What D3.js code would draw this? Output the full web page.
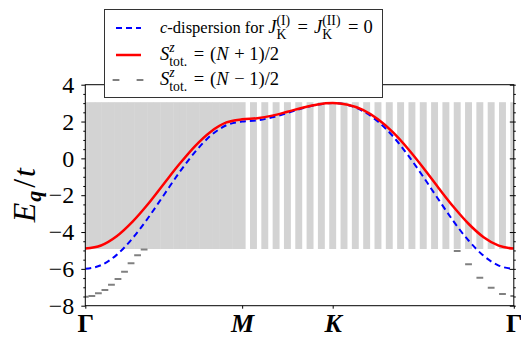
<!DOCTYPE html>
<html lang="en">
<head>
    <meta charset="UTF-8">
    <title>Dispersion chart</title>
    <script src="https://d3js.org/d3.v7.min.js"></script>
    <style>
        body { margin: 0; background: #fff; }
        text { white-space: pre; fill: #000; }
    </style>
</head>
<body>
    <svg id="chart"></svg>
    <script>
        const width = 521;
        const height = 337;
        const serif = "'Liberation Serif'";

        // path positions of the high symmetry points (|ΓM| : |MK| : |KΓ| = 1/√3 : 1/3 : 2/3)
        const kTicks = [0, 0.5774, 0.9107, 1.5774];
        const kLabels = ["Γ", "M", "K", "Γ"];
        // number of k grid steps on each leg of the path
        const gridSteps = [24, 8, 16];

        // c-dispersion for J_K = 0, read along each leg
        const cDispGM = [-6.0, -5.80, -5.24, -4.35, -3.24, -2.0, -0.76, 0.35, 1.24, 1.80, 2.0];
        const cDispMK = [2.0, 2.06, 2.23, 2.46, 2.72, 2.92, 3.0];
        const cDispKG = [3.0, 2.90, 2.57, 2.0, 1.19, 0.16, -1.0, -2.22, -3.41, -4.46, -5.29, -5.82, -6.0];

        // S = (N+1)/2 branch
        const upGM = [-4.90, -4.73, -4.23, -3.45, -2.48, -1.39, -0.31, 0.67, 1.45, 1.95, 2.12];
        const upMK = [2.12, 2.18, 2.32, 2.53, 2.75, 2.93, 3.0];
        const upKG = [3.0, 2.91, 2.63, 2.12, 1.41, 0.51, -0.51, -1.59, -2.63, -3.55, -4.28, -4.74, -4.90];

        // S = (N-1)/2 states below the continuum (grid index on the leg, energy)
        const downLeftIdx = [0, 1, 2, 3, 4, 5, 6, 7, 8, 9];
        const downLeft = [-7.51, -7.47, -7.32, -7.15, -6.86, -6.55, -6.15, -5.70, -5.26, -4.95];
        const downRightIdx = [11, 12, 13, 14, 15, 16];
        const downRight = [-5.03, -5.75, -6.48, -7.02, -7.36, -7.47];

        // continuum edges
        const contMin = -4.92;
        const contMax = 3.05;

        const yMajor = [-8, -6, -4, -2, 0, 2, 4];

        const margin = {left: 85.3, right: 7.2, top: 84.7, bottom: 31.3};
        const x = d3.scaleLinear().domain([0, kTicks[3]]).range([margin.left, width - margin.right]);
        const y = d3.scaleLinear().domain([-8, 4]).range([height - margin.bottom, margin.top]);

        const svg = d3.select("#chart")
            .attr("width", width)
            .attr("height", height)
            .attr("viewBox", [0, 0, width, height]);

        svg.append("defs").append("clipPath").attr("id", "plot")
            .append("rect")
            .attr("x", x(0)).attr("y", y(4))
            .attr("width", x(kTicks[3]) - x(0)).attr("height", y(-8) - y(4));

        // k positions of evenly spaced samples on each leg
        function legK(leg, n) {
            return d3.range(n).map(i => kTicks[leg] + (kTicks[leg + 1] - kTicks[leg]) * i / (n - 1));
        }
        function joinLegs(a, b, c) {
            const pts = [];
            [a, b, c].forEach((vals, leg) => {
                const ks = legK(leg, vals.length);
                vals.forEach((v, i) => {
                    if (leg > 0 && i === 0) return;
                    pts.push([ks[i], v]);
                });
            });
            return pts;
        }

        // k grid
        const grid = [];
        gridSteps.forEach((n, leg) => {
            legK(leg, n + 1).forEach((k, i) => {
                if (leg > 0 && i === 0) return;
                grid.push(k);
            });
        });

        const plot = svg.append("g").attr("clip-path", "url(#plot)");

        const barW = 0.0255;
        plot.append("g")
            .attr("fill", "#d3d3d3")
            .selectAll("rect")
            .data(grid)
            .join("rect")
            .attr("x", d => x(d - barW / 2))
            .attr("width", x(barW) - x(0))
            .attr("y", y(contMax))
            .attr("height", y(contMin) - y(contMax));

        // lower spin branch, short horizontal markers
        const downPts = downLeftIdx.map((i, j) => [legK(0, gridSteps[0] + 1)[i], downLeft[j]])
            .concat(downRightIdx.map((i, j) => [legK(2, gridSteps[2] + 1)[i], downRight[j]]));
        plot.append("g")
            .attr("stroke", "#808080")
            .attr("stroke-width", 2)
            .selectAll("line")
            .data(downPts)
            .join("line")
            .attr("x1", d => x(d[0]) - 3.4)
            .attr("x2", d => x(d[0]) + 3.4)
            .attr("y1", d => y(d[1]))
            .attr("y2", d => y(d[1]));

        const line = d3.line()
            .x(d => x(d[0]))
            .y(d => y(d[1]))
            .curve(d3.curveMonotoneX);

        plot.append("path")
            .attr("d", line(joinLegs(cDispGM, cDispMK, cDispKG)))
            .attr("fill", "none")
            .attr("stroke", "#0000ff")
            .attr("stroke-width", 2)
            .attr("stroke-dasharray", "6,4");

        plot.append("path")
            .attr("d", line(joinLegs(upGM, upMK, upKG)))
            .attr("fill", "none")
            .attr("stroke", "#ff0000")
            .attr("stroke-width", 2.5);

        // axes
        const minor = d3.range(-8, 4.01, 0.5).filter(v => !yMajor.includes(v));

        const left = svg.append("g").attr("transform", `translate(${x(0)},0)`);
        left.call(d3.axisLeft(y).tickValues(yMajor).tickSize(4).tickPadding(7));
        left.append("g").call(d3.axisLeft(y).tickValues(minor).tickSize(2).tickFormat(""));
        left.selectAll(".domain").remove();
        left.selectAll("text").attr("font-size", 24);
        left.selectAll("line").attr("stroke", "#000");

        const right = svg.append("g").attr("transform", `translate(${x(kTicks[3])},0)`);
        right.call(d3.axisRight(y).tickValues(yMajor).tickSize(2).tickFormat(""));
        right.append("g").call(d3.axisLeft(y).tickValues(yMajor).tickSize(4).tickFormat(""));
        right.append("g").call(d3.axisRight(y).tickValues(minor).tickSize(2).tickFormat(""));
        right.selectAll(".domain").remove();

        const bottom = svg.append("g").attr("transform", `translate(0,${y(-8)})`);
        bottom.call(d3.axisBottom(x).tickValues(kTicks).tickSize(3).tickPadding(4)
            .tickFormat((d, i) => kLabels[i]));
        bottom.selectAll(".domain").remove();
        bottom.selectAll("text")
            .attr("font-size", 26)
            .attr("font-weight", "bold")
            .attr("font-style", (d, i) => (i === 1 || i === 2) ? "italic" : "normal")
            .attr("dy", "0.76em");

        svg.append("rect")
            .attr("x", x(0)).attr("y", y(4))
            .attr("width", x(kTicks[3]) - x(0)).attr("height", y(-8) - y(4))
            .attr("fill", "none")
            .attr("stroke", "#000")
            .attr("stroke-width", 1);

        // math-like text from pieces; stacked pieces hold a sup and a sub, gap pieces add space
        function mathText(parent, px, py, parts, fs) {
            const g = parent.append("g").attr("transform", `translate(${px},${py})`);
            let cx = 0;
            parts.forEach(p => {
                if (p.gap !== undefined) {
                    cx += p.gap;
                } else if (p.t !== undefined) {
                    const t = g.append("text")
                        .attr("x", cx).attr("y", p.dy || 0)
                        .attr("font-size", p.fs || fs)
                        .attr("font-style", p.it ? "italic" : "normal")
                        .attr("font-weight", p.b ? "bold" : "normal")
                        .text(p.t);
                    cx += t.node().getComputedTextLength();
                } else {
                    const s = fs * 0.74;
                    let w = 0;
                    if (p.sup) {
                        const t = g.append("text").attr("x", cx).attr("y", -fs * 0.42)
                            .attr("font-size", s).attr("font-style", p.supIt ? "italic" : "normal").text(p.sup);
                        w = Math.max(w, t.node().getComputedTextLength());
                    }
                    if (p.sub) {
                        const t = g.append("text").attr("x", cx).attr("y", fs * 0.3)
                            .attr("font-size", s).text(p.sub);
                        w = Math.max(w, t.node().getComputedTextLength());
                    }
                    cx += w + 1.5;
                }
            });
            g.selectAll("text").style("font-family", serif);
            return {g: g, width: cx};
        }

        // y label
        const yl = mathText(svg, 0, 0, [
            {t: "E", it: true},
            {gap: 1},
            {t: "q", it: true, b: true, fs: 22, dy: 6},
            {gap: 3},
            {t: "/"},
            {gap: 2},
            {t: "t", it: true}
        ], 32);
        yl.g.attr("transform", `translate(35,${y(-2)}) rotate(-90) translate(${-yl.width / 2},0)`);

        // legend
        const leg = svg.append("g");
        leg.append("rect")
            .attr("x", 104.5).attr("y", 9.5)
            .attr("width", 278).attr("height", 88)
            .attr("fill", "#fff")
            .attr("stroke", "#333")
            .attr("stroke-width", 1);

        const rows = [28, 55, 80];
        leg.append("line")
            .attr("x1", 116).attr("x2", 141).attr("y1", rows[0]).attr("y2", rows[0])
            .attr("stroke", "#0000ff").attr("stroke-width", 2).attr("stroke-dasharray", "6,4");
        leg.append("line")
            .attr("x1", 116).attr("x2", 141).attr("y1", rows[1]).attr("y2", rows[1])
            .attr("stroke", "#ff0000").attr("stroke-width", 2.5);
        leg.append("g")
            .attr("stroke", "#808080").attr("stroke-width", 2)
            .selectAll("line")
            .data([116, 140])
            .join("line")
            .attr("x1", d => d - 3.4).attr("x2", d => d + 3.4)
            .attr("y1", rows[2]).attr("y2", rows[2]);

        const mfs = 18.5;
        mathText(leg, 160, rows[0] + 5, [
            {t: "c", it: true, fs: 16.5}, {t: "-dispersion for ", fs: 16.5},
            {t: "J", it: true}, {sup: "(I)", sub: "K"}, {gap: 6}, {t: "="}, {gap: 6},
            {t: "J", it: true}, {sup: "(II)", sub: "K"}, {gap: 6}, {t: "="}, {gap: 5}, {t: "0"}
        ], mfs);
        [" + ", " − "].forEach((op, i) => {
            mathText(leg, 160, rows[i + 1] + 5, [
                {t: "S", it: true}, {sup: "z", supIt: true, sub: "tot."}, {gap: 5}, {t: "="}, {gap: 6},
                {t: "("}, {t: "N", it: true}, {gap: 1}, {t: op}, {t: "1)/2"}
            ], mfs);
        });

        svg.selectAll("text").style("font-family", serif);
    </script>
</body>
</html>
